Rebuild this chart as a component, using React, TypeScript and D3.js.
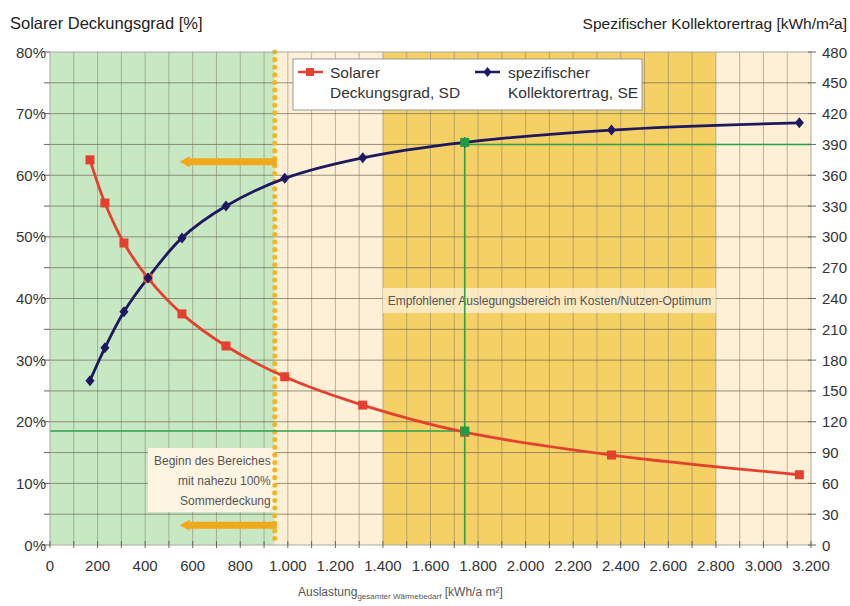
import React from "react";
import * as d3 from "d3";

const auslastung = [168, 231, 311, 412, 555, 740, 987, 1315, 1744, 2361, 3151];
const deckungsgrad = [62.5, 55.5, 49.0, 43.3, 37.5, 32.3, 27.3, 22.7, 18.3, 14.6, 11.4];
const kollektorertrag = [160, 192, 227, 260, 299, 330, 357, 377, 392, 404, 411];

const xTicks = [0, 200, 400, 600, 800, 1000, 1200, 1400, 1600, 1800, 2000, 2200, 2400, 2600, 2800, 3000, 3200];
const leftTicks = [0, 10, 20, 30, 40, 50, 60, 70, 80];
const rightTicks = d3.range(0, 481, 30);

const bands = [
  { from: 0, to: 945, color: "#c8e8c4" },
  { from: 945, to: 1400, color: "#fdf0d6" },
  { from: 1400, to: 2800, color: "#f5d064" },
  { from: 2800, to: 3200, color: "#fdf0d6" },
];
const sommerGrenze = 945;
const optimumX = 1744;
const optimumSD = 18.5;
const optimumSE = 390;

const FONT = "'Liberation Sans', Arial, sans-serif";

const fmt = (v: number) => (v >= 1000 ? `${Math.floor(v / 1000)}.${String(v % 1000).padStart(3, "0")}` : `${v}`);

export default function App() {
  const W = 850, H = 606;
  const L = 50, R = 811, T = 52, B = 545;
  const x = d3.scaleLinear().domain([0, 3200]).range([L, R]);
  const yL = d3.scaleLinear().domain([0, 80]).range([B, T]);
  const yR = d3.scaleLinear().domain([0, 480]).range([B, T]);

  const sdLine = d3.line<number>().x((_, i) => x(auslastung[i])).y((d) => yL(d)).curve(d3.curveCatmullRom.alpha(0.5));
  const seLine = d3.line<number>().x((_, i) => x(auslastung[i])).y((d) => yR(d)).curve(d3.curveCatmullRom.alpha(0.5));

  const vGrid = d3.range(100, 3200, 100);
  const hGrid = d3.range(5, 80, 5);

  const arrow = (yv: number, key: string) => {
    const x1 = x(sommerGrenze) + 2, x0 = x(545);
    const yy = yL(yv);
    return (
      <g key={key}>
        <line x1={x0 + 6} x2={x1} y1={yy} y2={yy} stroke="#f0a81c" strokeWidth={7} />
        <path d={`M${x0},${yy} L${x0 + 10},${yy - 5.5} L${x0 + 10},${yy + 5.5} Z`} fill="#f0a81c" />
      </g>
    );
  };

  return (
    <div style={{ position: "absolute", left: 0, top: 0 }}>
      <svg width={W} height={H} style={{ display: "block", background: "#fff" }} fontFamily={FONT}>
        {bands.map((b) => (
          <rect key={b.from} x={x(b.from)} y={T} width={x(b.to) - x(b.from)} height={B - T} fill={b.color} />
        ))}
        {vGrid.map((v) => (
          <line key={"v" + v} x1={x(v)} x2={x(v)} y1={T} y2={B} stroke="#7d7868" strokeOpacity={0.5} strokeWidth={1} />
        ))}
        {hGrid.map((v) => (
          <line key={"h" + v} x1={L} x2={R} y1={yL(v)} y2={yL(v)} stroke="#6d6858" strokeOpacity={0.7} strokeWidth={1} />
        ))}

        {/* annotation: middle */}
        <rect x={x(1400)} y={288} width={x(2800) - x(1400)} height={25} fill="#fdf3dc" fillOpacity={0.75} />
        <text x={(x(1400) + x(2800)) / 2} y={305} textAnchor="middle" fontSize={12} fill="#555">
          Empfohlener Auslegungsbereich im Kosten/Nutzen-Optimum
        </text>

        {/* annotation: bottom left */}
        <rect x={148} y={448} width={x(sommerGrenze) - 148} height={64} fill="#fdf4e2" />
        <text x={x(sommerGrenze) - 4} textAnchor="end" fontSize={12} fill="#555">
          <tspan x={x(sommerGrenze) - 4} y={465}>Beginn des Bereiches</tspan>
          <tspan x={x(sommerGrenze) - 4} y={485}>mit nahezu 100%</tspan>
          <tspan x={x(sommerGrenze) - 4} y={505}>Sommerdeckung</tspan>
        </text>

        {/* dotted boundary */}
        <line x1={x(sommerGrenze)} x2={x(sommerGrenze)} y1={T} y2={B} stroke="#f2b624" strokeWidth={5} strokeDasharray="0.1 7.5" strokeLinecap="round" />
        {arrow(62.2, "a1")}
        {arrow(3.2, "a2")}

        {/* green guide lines */}
        <line x1={L} x2={x(optimumX)} y1={yL(optimumSD)} y2={yL(optimumSD)} stroke="#2aa34a" strokeWidth={1.6} />
        <line x1={x(optimumX)} x2={R} y1={yR(optimumSE)} y2={yR(optimumSE)} stroke="#2aa34a" strokeWidth={1.6} />
        <line x1={x(optimumX)} x2={x(optimumX)} y1={yR(optimumSE) - 4} y2={B} stroke="#2aa34a" strokeWidth={1.6} />

        {/* series */}
        <path d={sdLine(deckungsgrad) || ""} fill="none" stroke="#e5402f" strokeWidth={2.8} />
        <path d={seLine(kollektorertrag) || ""} fill="none" stroke="#1e1860" strokeWidth={2.8} />
        {deckungsgrad.map((d, i) => (
          <rect key={"sd" + i} x={x(auslastung[i]) - 4.5} y={yL(d) - 4.5} width={9} height={9} fill="#e5402f" />
        ))}
        {kollektorertrag.map((d, i) => (
          <path key={"se" + i} d={`M${x(auslastung[i])},${yR(d) - 5.5} L${x(auslastung[i]) + 4.5},${yR(d)} L${x(auslastung[i])},${yR(d) + 5.5} L${x(auslastung[i]) - 4.5},${yR(d)} Z`} fill="#1e1860" />
        ))}
        <rect x={x(optimumX) - 4.5} y={yL(optimumSD) - 4.5} width={9} height={9} fill="#1f9a45" />
        <rect x={x(optimumX) - 4.5} y={yR(392) - 4.5} width={9} height={9} fill="#1f9a45" />

        {/* legend */}
        <rect x={293} y={59} width={349} height={51} fill="#fff" stroke="#999" strokeWidth={1} />
        <line x1={298} x2={323} y1={72} y2={72} stroke="#e5402f" strokeWidth={2.5} />
        <rect x={306} y={68} width={8} height={8} fill="#e5402f" />
        <text x={330} y={78} fontSize={15.5} fill="#333">Solarer</text>
        <text x={330} y={98} fontSize={15.5} fill="#333">Deckungsgrad, SD</text>
        <line x1={475} x2={500} y1={72} y2={72} stroke="#1e1860" strokeWidth={2.5} />
        <path d="M487.5,67 L491.5,72 L487.5,77 L483.5,72 Z" fill="#1e1860" />
        <text x={508} y={78} fontSize={15.5} fill="#333">spezifischer</text>
        <text x={508} y={98} fontSize={15.5} fill="#333">Kollektorertrag, SE</text>

        {/* axes */}
        <rect x={L} y={T} width={R - L} height={B - T} fill="none" stroke="#a8a8a0" strokeWidth={1} />
        {hGrid.concat([0, 80]).map((v) => (
          <line key={"lt" + v} x1={L - 6} x2={L} y1={yL(v)} y2={yL(v)} stroke="#666" />
        ))}
        {rightTicks.map((v) => (
          <line key={"rt" + v} x1={R - 3} x2={R + 5} y1={yR(v)} y2={yR(v)} stroke="#666" />
        ))}
        {d3.range(0, 3201, 100).map((v) => (
          <line key={"bt" + v} x1={x(v)} x2={x(v)} y1={B - 4} y2={B + 3} stroke="#666" />
        ))}
        {leftTicks.map((v) => (
          <text key={"ll" + v} x={L - 4} y={yL(v) + 5.5} textAnchor="end" fontSize={15} fill="#333">{v}%</text>
        ))}
        {rightTicks.map((v) => (
          <text key={"rl" + v} x={R + 11} y={yR(v) + 5.5} fontSize={15} fill="#333">{v}</text>
        ))}
        {xTicks.map((v) => (
          <text key={"xl" + v} x={x(v)} y={571} textAnchor="middle" fontSize={15} fill="#333">{fmt(v)}</text>
        ))}

        {/* titles */}
        <text x={10} y={29} fontSize={16.5} fill="#222">Solarer Deckungsgrad  [%]</text>
        <text x={847} y={29} textAnchor="end" fontSize={15.5} fill="#222">Spezifischer Kollektorertrag [kWh/m²a]</text>
        <text x={298} y={596} fontSize={12} fill="#555">
          Auslastung<tspan fontSize={8} dy={3}>gesamter Wärmebedarf</tspan>
          <tspan dy={-3}> [kWh/a m²]</tspan>
        </text>
      </svg>
    </div>
  );
}
